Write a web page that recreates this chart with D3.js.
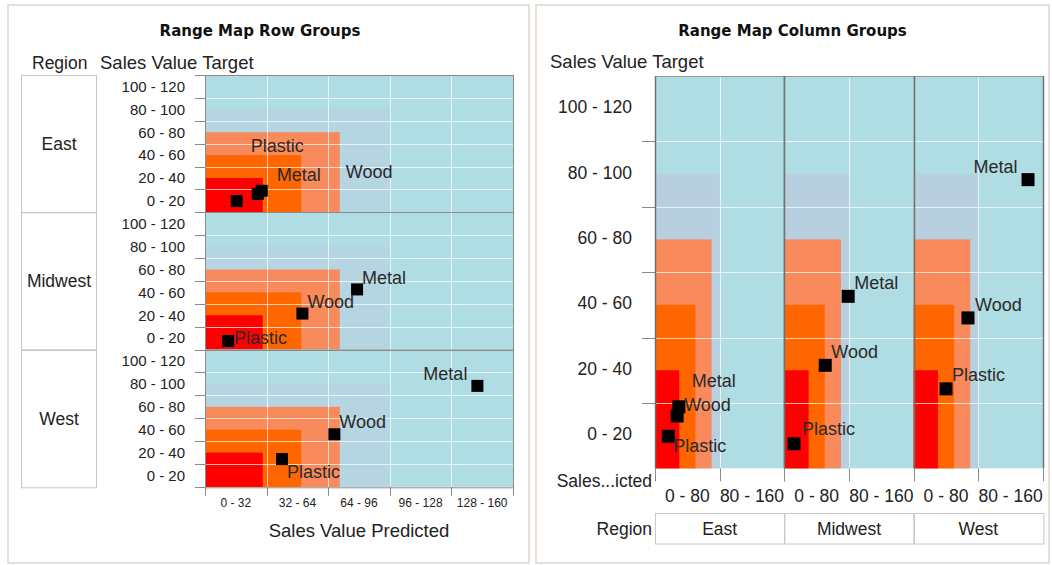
<!DOCTYPE html>
<html>
<head>
  <title>Range Map</title>
  <script src="https://cdnjs.cloudflare.com/ajax/libs/d3/7.8.5/d3.min.js"></script>
  <style>
    body {
        margin: 0;
        background: #ffffff;
        font-family: "Liberation Sans", Arial, sans-serif;
    }
    svg { display: block; }
    .title {
        font-family: "DejaVu Sans", sans-serif;
        font-weight: bold;
        font-size: 15px;
        fill: #111;
    }
    .big { font-size: 17.5px; fill: #222; }
    .axtitle { font-size: 18.5px; fill: #222; }
    .ptlabel { font-size: 18px; fill: #2a2a2a; }
  </style>
</head>
<body>
<svg id="chart" width="1052" height="565"></svg>
<script>
// ---------------- data ----------------
var regions = ['East', 'Midwest', 'West'];
var materials = ['Plastic', 'Wood', 'Metal'];

// Sales Value Predicted, in the order of materials
var predictedEast    = [16.5, 27.4, 29.5];
var predictedMidwest = [12, 50.6, 79];
var predictedWest    = [40, 67.2, 141.5];

// Sales Value Target, in the order of materials
var targetEast    = [9.8, 16, 18.8];
var targetMidwest = [7.5, 31.5, 52.6];
var targetWest    = [24.3, 46, 88.3];

// range map: each range runs from 0 up to these limits (outermost first)
// the outer range snaps to the predicted bin edge, so it differs per layout
var rowRangePredictedMax = [96, 70, 50, 30];
var colRangePredictedMax = [80, 70, 50, 30];
var rangeTargetMax       = [90, 70, 50, 30];

// axis bins
var targetBins       = ['0 - 20', '20 - 40', '40 - 60', '60 - 80', '80 - 100', '100 - 120'];
var rowPredictedBins = ['0 - 32', '32 - 64', '64 - 96', '96 - 128', '128 - 160'];
var colPredictedBins = ['0 - 80', '80 - 160'];

// ---------------- styles ----------------
var BLUE = '#b0dce3';
var rowRangeColors = ['#b4d5e1', '#f98a5b', '#ff6600', '#ff0000'];
var colRangeColors = ['#b8cfdf', '#f98a5b', '#ff6600', '#ff0000'];
var GRID = '#ffffff';
var FRAME = '#8a8a8a';

var predictedByRegion = [predictedEast, predictedMidwest, predictedWest];
var targetByRegion = [targetEast, targetMidwest, targetWest];

var rows = regions.map(function(r, i) {
    return {
        region: r,
        points: materials.map(function(m, j) {
            return {material: m, predicted: predictedByRegion[i][j], target: targetByRegion[i][j]};
        })
    };
});

// label placement relative to the point: [dx, dy, anchor]
var rowLabelPos = {
    East:    {Plastic: [14, -56, 'start'], Wood: [88, -22, 'start'], Metal: [15, -16, 'start']},
    Midwest: {Plastic: [6, -4, 'start'],   Wood: [5, -12.5, 'start'], Metal: [5, -11.5, 'start']},
    West:    {Plastic: [5, 12, 'start'],   Wood: [5, -12.5, 'start'], Metal: [-10, -12.5, 'end']}
};
var colLabelPos = {
    East:    {Plastic: [5, 9, 'start'],   Wood: [7, -11.5, 'start'], Metal: [13, -26.5, 'start']},
    Midwest: {Plastic: [8, -15, 'start'], Wood: [6, -13.5, 'start'], Metal: [6, -14.3, 'start']},
    West:    {Plastic: [6, -14, 'start'], Wood: [7, -13.2, 'start'], Metal: [-10.5, -12.7, 'end']}
};

var svg = d3.select('#chart');

// panels
svg.append('rect').attr('x', 8).attr('y', 5).attr('width', 521).attr('height', 558)
    .attr('fill', '#fff').attr('stroke', '#e6dfd5').attr('stroke-width', 2);
svg.append('rect').attr('x', 536).attr('y', 5).attr('width', 513).attr('height', 558)
    .attr('fill', '#fff').attr('stroke', '#e6dfd5').attr('stroke-width', 2);

//----------------------------------------
// one plot cell: background, ranges, grid, points, labels
function drawCell(g, x, y, rangeX, colors, xGrid, yGrid, points, labelPos, sq) {
    var x0 = x.range()[0], x1 = x.range()[1];
    var yb = y.range()[0], yt = y.range()[1];

    g.append('rect')
        .attr('x', x0).attr('y', yt)
        .attr('width', x1 - x0).attr('height', yb - yt)
        .attr('fill', BLUE);

    g.selectAll('rect.range')
        .data(d3.range(rangeX.length))
        .enter().append('rect')
        .attr('class', 'range')
        .attr('x', x0)
        .attr('y', function(i) { return y(rangeTargetMax[i]); })
        .attr('width', function(i) { return x(rangeX[i]) - x0; })
        .attr('height', function(i) { return yb - y(rangeTargetMax[i]); })
        .attr('fill', function(i) { return colors[i]; });

    g.selectAll('line.gx').data(xGrid).enter().append('line')
        .attr('x1', function(d) { return Math.round(x(d)) + 0.5; })
        .attr('x2', function(d) { return Math.round(x(d)) + 0.5; })
        .attr('y1', yt).attr('y2', yb)
        .attr('stroke', GRID).attr('stroke-opacity', 0.7);
    g.selectAll('line.gy').data(yGrid).enter().append('line')
        .attr('y1', function(d) { return Math.round(y(d)) + 0.5; })
        .attr('y2', function(d) { return Math.round(y(d)) + 0.5; })
        .attr('x1', x0).attr('x2', x1)
        .attr('stroke', GRID).attr('stroke-opacity', 0.7);

    g.selectAll('rect.pt').data(points).enter().append('rect')
        .attr('x', function(d) { return x(d.predicted) - sq / 2; })
        .attr('y', function(d) { return y(d.target) - sq / 2; })
        .attr('width', sq).attr('height', sq)
        .attr('fill', '#000');

    g.selectAll('text.pt').data(points).enter().append('text')
        .attr('class', 'ptlabel')
        .attr('x', function(d) { return x(d.predicted) + labelPos[d.material][0]; })
        .attr('y', function(d) { return y(d.target) + labelPos[d.material][1] + 6.5; })
        .attr('text-anchor', function(d) { return labelPos[d.material][2]; })
        .text(function(d) { return d.material; });
}

//----------------------------------------
// Left: Range Map Row Groups
var L = {left: 205, right: 513, top: 75, rowH: 137.3};
var left = svg.append('g');

left.append('text').attr('class', 'title')
    .attr('x', 260).attr('y', 35.5).attr('text-anchor', 'middle')
    .text('Range Map Row Groups');
left.append('text').attr('class', 'big').attr('x', 32).attr('y', 68.5).text('Region');
left.append('text').attr('class', 'axtitle').attr('x', 100).attr('y', 68.5).text('Sales Value Target');

var xRow = d3.scaleLinear().domain([0, 160]).range([L.left, L.right]);
var xRowBins = d3.scaleBand().domain(rowPredictedBins).range([L.left, L.right]);

rows.forEach(function(row, i) {
    var top = L.top + i * L.rowH, bottom = top + L.rowH;
    var y = d3.scaleLinear().domain([0, 120]).range([bottom, top]);
    var yBins = d3.scaleBand().domain(targetBins).range([bottom, top]);
    var g = left.append('g');

    // region box
    g.append('rect')
        .attr('x', 21.5).attr('y', Math.round(top) + 0.5)
        .attr('width', 75).attr('height', L.rowH)
        .attr('fill', 'none').attr('stroke', '#c8c8c8');
    g.append('text').attr('class', 'big')
        .attr('x', 59).attr('y', (top + bottom) / 2 + 6.5)
        .attr('text-anchor', 'middle').text(row.region);

    // y ticks and bin labels
    g.selectAll('line.yt').data(d3.range(0, 121, 20)).enter().append('line')
        .attr('x1', 195).attr('x2', L.left)
        .attr('y1', function(d) { return Math.round(y(d)) + 0.5; })
        .attr('y2', function(d) { return Math.round(y(d)) + 0.5; })
        .attr('stroke', '#8a8a8a');
    g.selectAll('text.yl').data(targetBins).enter().append('text')
        .attr('x', 185)
        .attr('y', function(d) { return yBins(d) + yBins.bandwidth() / 2 + 5.3; })
        .attr('text-anchor', 'end')
        .style('font-size', '15px').style('fill', '#222')
        .text(function(d) { return d; });

    drawCell(g, xRow, y, rowRangePredictedMax, rowRangeColors, [32, 64, 96, 128], [20, 40, 60, 80, 100],
        row.points, rowLabelPos[row.region], 12);

    g.append('rect')
        .attr('x', L.left + 0.5).attr('y', Math.round(top) + 0.5)
        .attr('width', L.right - L.left).attr('height', L.rowH)
        .attr('fill', 'none').attr('stroke', FRAME);
});

// x ticks and bin labels
var rowBottom = L.top + 3 * L.rowH;
left.selectAll('line.xt').data(d3.range(0, 161, 32)).enter().append('line')
    .attr('x1', function(d) { return Math.round(xRow(d)) + 0.5; })
    .attr('x2', function(d) { return Math.round(xRow(d)) + 0.5; })
    .attr('y1', rowBottom).attr('y2', rowBottom + 9)
    .attr('stroke', '#8a8a8a');
left.selectAll('text.xl').data(rowPredictedBins).enter().append('text')
    .attr('x', function(d) { return xRowBins(d) + xRowBins.bandwidth() / 2; })
    .attr('y', 507)
    .attr('text-anchor', 'middle')
    .style('font-size', '12px').style('fill', '#222')
    .text(function(d) { return d; });
left.append('text').attr('class', 'axtitle')
    .attr('x', (L.left + L.right) / 2).attr('y', 537)
    .attr('text-anchor', 'middle').text('Sales Value Predicted');

//----------------------------------------
// Right: Range Map Column Groups
var R = {left: 655, colW: 129.33, top: 76, bottom: 468.3};
var right = svg.append('g');

right.append('text').attr('class', 'title')
    .attr('x', 792.5).attr('y', 35.5).attr('text-anchor', 'middle')
    .text('Range Map Column Groups');
right.append('text').attr('class', 'axtitle').attr('x', 550).attr('y', 68).text('Sales Value Target');

var yCol = d3.scaleLinear().domain([0, 120]).range([R.bottom, R.top]);
var yColBins = d3.scaleBand().domain(targetBins).range([R.bottom, R.top]);

right.selectAll('line.yt').data(d3.range(20, 101, 20)).enter().append('line')
    .attr('x1', 642).attr('x2', R.left)
    .attr('y1', function(d) { return Math.round(yCol(d)) + 0.5; })
    .attr('y2', function(d) { return Math.round(yCol(d)) + 0.5; })
    .attr('stroke', '#8a8a8a');
right.selectAll('text.yl').data(targetBins).enter().append('text')
    .attr('x', 632)
    .attr('y', function(d) { return yColBins(d) + yColBins.bandwidth() / 2 + 4.5; })
    .attr('text-anchor', 'end')
    .style('font-size', '17.5px').style('fill', '#222')
    .text(function(d) { return d; });

rows.forEach(function(row, i) {
    var l = R.left + i * R.colW, r = l + R.colW;
    var x = d3.scaleLinear().domain([0, 160]).range([l, r]);
    var xBins = d3.scaleBand().domain(colPredictedBins).range([l, r]);
    var g = right.append('g');

    drawCell(g, x, yCol, colRangePredictedMax, colRangeColors, [80], [20, 40, 60, 80, 100],
        row.points, colLabelPos[row.region], 13);

    g.append('line')
        .attr('x1', l).attr('x2', r).attr('y1', R.top + 0.5).attr('y2', R.top + 0.5)
        .attr('stroke', '#9a9a9a');
    g.selectAll('line.fr').data([l, r]).enter().append('line')
        .attr('x1', function(d) { return Math.round(d) + 0.5; })
        .attr('x2', function(d) { return Math.round(d) + 0.5; })
        .attr('y1', R.top).attr('y2', R.bottom)
        .attr('stroke', '#707070').attr('stroke-width', 1.5);

    // x ticks and bin labels
    g.selectAll('line.xt').data([0, 80, 160]).enter().append('line')
        .attr('x1', function(d) { return Math.round(x(d)) + 0.5; })
        .attr('x2', function(d) { return Math.round(x(d)) + 0.5; })
        .attr('y1', R.bottom).attr('y2', R.bottom + 13)
        .attr('stroke', '#8a8a8a');
    g.selectAll('text.xl').data(colPredictedBins).enter().append('text')
        .attr('x', function(d) { return xBins(d) + xBins.bandwidth() / 2; })
        .attr('y', 501.5)
        .attr('text-anchor', 'middle')
        .style('font-size', '17.5px').style('fill', '#222')
        .text(function(d) { return d; });

    // region box
    g.append('rect')
        .attr('x', Math.round(l) + 0.5).attr('y', 513.5)
        .attr('width', R.colW).attr('height', 30.5)
        .attr('fill', 'none').attr('stroke', '#c8c8c8');
    g.append('text').attr('class', 'big')
        .attr('x', (l + r) / 2).attr('y', 535)
        .attr('text-anchor', 'middle').text(row.region);
});

right.append('text').attr('class', 'big')
    .attr('x', 652).attr('y', 487).attr('text-anchor', 'end').text('Sales...icted');
right.append('text').attr('class', 'big')
    .attr('x', 652).attr('y', 535).attr('text-anchor', 'end').text('Region');
</script>
</body>
</html>
